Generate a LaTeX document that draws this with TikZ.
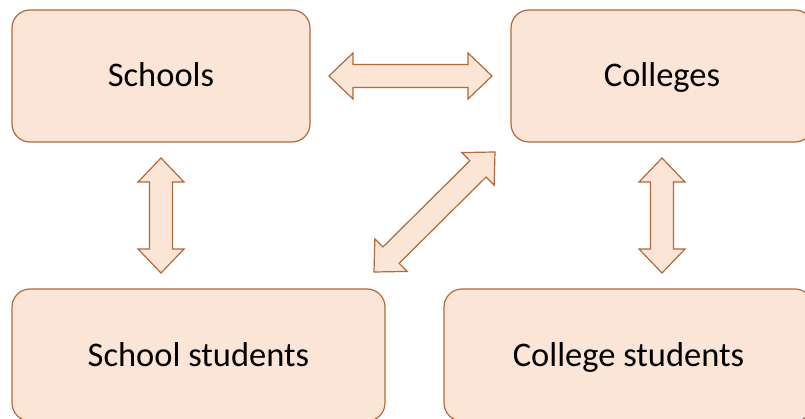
\documentclass[tikz,border=0pt]{standalone}
\usepackage{fontspec}
\setmainfont{Carlito}
\usetikzlibrary{calc}

\definecolor{boxfill}{HTML}{FBE5D6}
\definecolor{boxline}{HTML}{B06A3B}

% Double-headed block arrow between two named points
\newcommand\blockarrow[2]{%
  \draw[blockarr] (#1)
    -- ($(#1)!24pt!(#2)!23pt!90:(#2)$)
    -- ($(#1)!24pt!(#2)!11.5pt!90:(#2)$)
    -- ($(#2)!24pt!(#1)!11.5pt!-90:(#1)$)
    -- ($(#2)!24pt!(#1)!23pt!-90:(#1)$)
    -- (#2)
    -- ($(#2)!24pt!(#1)!23pt!90:(#1)$)
    -- ($(#2)!24pt!(#1)!11.5pt!90:(#1)$)
    -- ($(#1)!24pt!(#2)!11.5pt!-90:(#2)$)
    -- ($(#1)!24pt!(#2)!23pt!-90:(#2)$)
    -- cycle;}

\begin{document}
\begin{tikzpicture}[x=1pt,y=-1pt,
  block/.style={draw=boxline, fill=boxfill, line width=1.2pt,
    rounded corners=18pt, inner sep=0pt, text height=24pt, text depth=2pt,
    font=\fontsize{34.5}{40}\selectfont},
  blockarr/.style={draw=boxline, fill=boxfill, line width=1.2pt, line join=miter}]
  \useasboundingbox (0,0) rectangle (805,419);

  \node[block, minimum width=298pt, minimum height=132pt] (schools) at (161,76) {Schools};
  \node[block, minimum width=302pt, minimum height=132pt] (colleges) at (662,76) {Colleges};
  \node[block, minimum width=373pt, minimum height=132pt] (sstud) at (198.5,355) {School students};
  \node[block, minimum width=369pt, minimum height=132pt] (cstud) at (628.5,355) {College students};

  % arrow tips
  \coordinate (h1) at (329,76);
  \coordinate (h2) at (492,76);
  \coordinate (l1) at (161,158);
  \coordinate (l2) at (161,273);
  \coordinate (r1) at (662,158);
  \coordinate (r2) at (662,273);
  \coordinate (d1) at (495,152);
  \coordinate (d2) at (374,272);

  \blockarrow{h1}{h2}
  \blockarrow{l1}{l2}
  \blockarrow{r1}{r2}
  \blockarrow{d1}{d2}
\end{tikzpicture}
\end{document}
